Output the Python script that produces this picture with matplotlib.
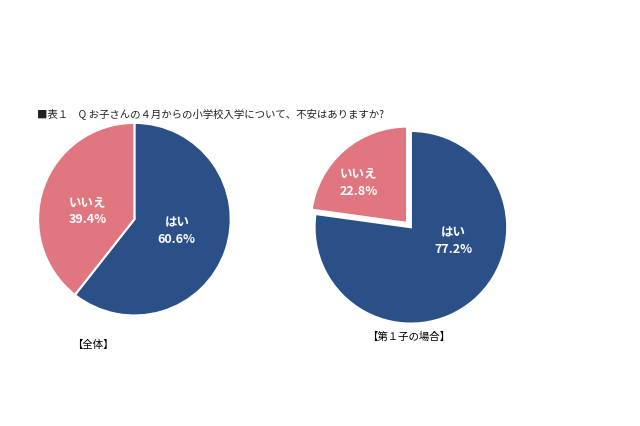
import matplotlib
matplotlib.use("Agg")
import matplotlib.pyplot as plt

plt.rcParams["font.family"] = "Noto Sans CJK JP"

categories = ["はい", "いいえ"]
all_values = [60.6, 39.4]
first_values = [77.2, 22.8]
colors = ["#2B5088", "#DF7680"]
title = "■表１　Q お子さんの４月からの小学校入学について、不安はありますか?"

fig = plt.figure(figsize=(6.4, 4.26), dpi=100)
fig.text(0.058, 0.725, title, fontsize=7.5, color="#222222")

def draw(rect, values, explode, label_pos, caption, cap_pos):
    ax = fig.add_axes(rect)
    ax.pie(values, colors=colors, startangle=90, counterclock=False,
           explode=explode, wedgeprops=dict(edgecolor="white", linewidth=1.5))
    ax.set_xlim(-1.05, 1.05); ax.set_ylim(-1.05, 1.05)
    ax.set_aspect("equal")
    for cat, v, (x, y) in zip(categories, values, label_pos):
        ax.text(x, y, f"{cat}\n{v:.1f}%", transform=ax.transAxes, ha="center",
                va="center", color="white", fontsize=9, fontweight="bold", linespacing=1.4)
    fig.text(cap_pos[0], cap_pos[1], caption, fontsize=7.5, ha="center", va="center")

draw([0.052, 0.248, 0.316, 0.475], all_values, [0, 0],
     [(0.71, 0.44), (0.27, 0.54)], "【全体】", (0.145, 0.19))
draw([0.484, 0.229, 0.316, 0.475], first_values, [0, 0.06],
     [(0.71, 0.43), (0.24, 0.72)], "【第１子の場合】", (0.638, 0.21))

fig.savefig("out.png", dpi=100)
